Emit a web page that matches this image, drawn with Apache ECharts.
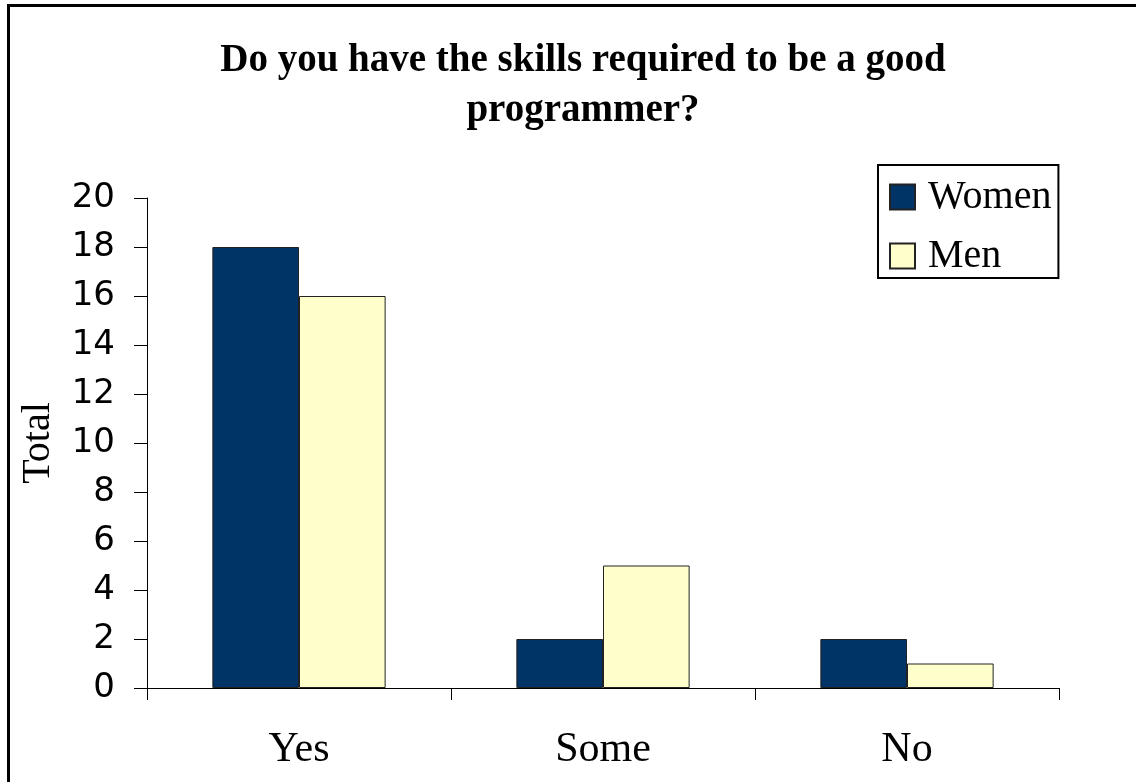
<!DOCTYPE html>
<html>
<head>
<meta charset="utf-8">
<script src="https://cdn.jsdelivr.net/npm/echarts@6/dist/echarts.min.js"></script>
<style>
html,body{margin:0;padding:0;background:#fff;}
#chart{width:1136px;height:782px;}
</style>
</head>
<body>
<div id="chart"></div>
<script>
const categories = ['Yes', 'Some', 'No'];
const women = [18, 2, 2];
const men = [16, 5, 1];
const yTicks = { min: 0, max: 20, interval: 2 };
const titleText = 'Do you have the skills required to be a good\nprogrammer?';

const chart = echarts.init(document.getElementById('chart'));
const serif = '"Liberation Serif", "Times New Roman", serif';
const sans = '"DejaVu Sans", Verdana, sans-serif';

chart.setOption({
  backgroundColor: '#fff',
  animation: false,
  title: {
    text: titleText,
    left: 578,
    textAlign: 'center',
    top: 31,
    textStyle: { fontFamily: serif, fontWeight: 'bold', fontSize: 39, lineHeight: 50, color: '#000' }
  },
  graphic: [{
    type: 'rect',
    shape: { x: 8.5, y: 5.5, width: 1300, height: 1000 },
    style: { fill: null, stroke: '#000', lineWidth: 3 },
    silent: true
  }],
  legend: {
    orient: 'vertical',
    left: 878,
    top: 165,
    padding: [12, 7, 2, 11],
    borderColor: '#000',
    borderWidth: 2,
    itemWidth: 25,
    itemHeight: 25,
    itemGap: 19,
    icon: 'rect',
    textStyle: { fontFamily: serif, fontSize: 40, lineHeight: 40, color: '#000', padding: [0, 0, 0, 8] },
    data: ['Women', 'Men']
  },
  grid: { left: 147, right: 77, top: 198, bottom: 94 },
  xAxis: {
    type: 'category',
    data: categories,
    axisLine: { lineStyle: { color: '#000', width: 1 } },
    axisTick: { show: true, length: 12, lineStyle: { color: '#000' } },
    axisLabel: { fontFamily: serif, fontSize: 42, color: '#000', margin: 41 }
  },
  yAxis: {
    type: 'value',
    min: yTicks.min,
    max: yTicks.max,
    interval: yTicks.interval,
    name: 'Total',
    nameLocation: 'middle',
    nameRotate: 90,
    nameGap: 89,
    nameTextStyle: { fontFamily: serif, fontSize: 40, color: '#000' },
    axisLine: { show: true, lineStyle: { color: '#000', width: 1 } },
    axisTick: { show: true, length: 13, lineStyle: { color: '#000' } },
    splitLine: { show: false },
    axisLabel: { fontFamily: sans, fontSize: 34, color: '#000', margin: 32 }
  },
  series: [
    {
      name: 'Women', type: 'bar', data: women,
      barGap: '0%', barCategoryGap: '43%',
      itemStyle: { color: '#003366', borderColor: '#222', borderWidth: 1 }
    },
    {
      name: 'Men', type: 'bar', data: men,
      itemStyle: { color: '#FFFFCC', borderColor: '#222', borderWidth: 1 }
    }
  ]
});
</script>
</body>
</html>
